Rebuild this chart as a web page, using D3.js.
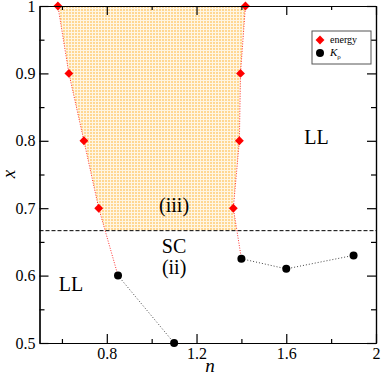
<!doctype html>
<html>
<head>
<meta charset="utf-8">
<script src="https://d3js.org/d3.v7.min.js"></script>
<style>
  body { margin: 0; background: #fff; }
  svg text { font-family: "Liberation Serif", "DejaVu Serif", serif; }
</style>
</head>
<body>
<script>
// data
var leftN = [0.582, 0.631, 0.698, 0.764];
var leftX = [1, 0.9, 0.8, 0.7];
var rightN = [1.418, 1.396, 1.391, 1.364];
var rightX = [1, 0.9, 0.8, 0.7];
var kappaN = [0.85, 1.1, 1.4, 1.6, 1.9];
var kappaX = [0.6, 0.5, 0.625, 0.61, 0.63];
var scLevel = 2 / 3;
var nMajor = [0.8, 1.2, 1.6, 2];
var nMinor = [0.6, 1.0, 1.4, 1.8];
var xMajor = [0.5, 0.6, 0.7, 0.8, 0.9, 1];
var xMinor = [0.55, 0.65, 0.75, 0.85, 0.95];

var W = 382, H = 375;
var svg = d3.select("body").append("svg")
    .attr("width", W).attr("height", H);

var x = d3.scaleLinear().domain([0.5, 2]).range([39.5, 376]);
var y = d3.scaleLinear().domain([0.5, 1]).range([343, 6]);

// checker fill pattern
var defs = svg.append("defs");
var pat = defs.append("pattern").attr("id", "dots")
    .attr("width", 3).attr("height", 3).attr("patternUnits", "userSpaceOnUse");
pat.append("rect").attr("width", 3).attr("height", 3).attr("fill", "#fff6e4");
pat.append("rect").attr("width", 2).attr("height", 2).attr("fill", "#ffd792");

// points of the red boundaries
var left = leftN.map(function(d, i) { return [d, leftX[i]]; });
var right = rightN.map(function(d, i) { return [d, rightX[i]]; });
left.push([kappaN[0], kappaX[0]]);
right.push([kappaN[2], kappaX[2]]);

function cut(a, b) {
    var t = (a[1] - scLevel) / (a[1] - b[1]);
    return [a[0] + t * (b[0] - a[0]), scLevel];
}
var poly = left.slice(0, 4)
    .concat([cut(left[3], left[4]), cut(right[3], right[4])])
    .concat(right.slice(0, 4).reverse());

svg.append("path")
    .attr("d", "M" + poly.map(function(p) { return x(p[0]) + "," + y(p[1]); }).join("L") + "Z")
    .attr("fill", "url(#dots)");

// dashed line x = 2/3
svg.append("line")
    .attr("x1", x(0.5)).attr("x2", x(2))
    .attr("y1", y(scLevel)).attr("y2", y(scLevel))
    .attr("stroke", "#000").attr("stroke-width", 1)
    .attr("stroke-dasharray", "4,2");

var line = d3.line().x(function(d) { return x(d[0]); }).y(function(d) { return y(d[1]); });

[left, right].forEach(function(pts) {
    svg.append("path").attr("d", line(pts))
        .attr("fill", "none").attr("stroke", "#ff3030")
        .attr("stroke-width", 1).attr("stroke-dasharray", "1,1.5");
});

var kappa = kappaN.map(function(d, i) { return [d, kappaX[i]]; });
[kappa.slice(0, 2), kappa.slice(2)].forEach(function(pts) {
    svg.append("path").attr("d", line(pts))
        .attr("fill", "none").attr("stroke", "#444")
        .attr("stroke-width", 1).attr("stroke-dasharray", "1,2");
});

// markers
var diamond = d3.symbol().type(d3.symbolDiamond2).size(50);
svg.selectAll(".en").data(left.slice(0, 4).concat(right.slice(0, 4)))
    .enter().append("path")
    .attr("transform", function(d) { return "translate(" + x(d[0]) + "," + y(d[1]) + ")"; })
    .attr("d", diamond).attr("fill", "#ff0000");

svg.selectAll(".kp").data(kappa)
    .enter().append("circle")
    .attr("cx", function(d) { return x(d[0]); })
    .attr("cy", function(d) { return y(d[1]); })
    .attr("r", 4).attr("fill", "#000");

// axes, ticks inward
function styleAxis(g) {
    g.attr("font-family", "Liberation Serif").attr("font-size", 16);
    g.select(".domain").attr("stroke", "#000").attr("stroke-width", 1.2);
    g.selectAll("line").attr("stroke", "#000").attr("stroke-width", 1.2);
    g.selectAll("text").attr("fill", "#000");
}
var fmtN = function(d) { return d === 2 ? "2" : d3.format(".1f")(d); };
var fmtX = function(d) { return d === 1 ? "1" : d3.format(".1f")(d); };

svg.append("g").attr("transform", "translate(0," + y(0.5) + ")")
    .call(d3.axisBottom(x).tickValues(nMajor).tickSizeInner(-9).tickSizeOuter(0).tickPadding(5).tickFormat(fmtN))
    .call(styleAxis);
svg.append("g").attr("transform", "translate(0," + y(0.5) + ")")
    .call(d3.axisBottom(x).tickValues(nMinor).tickSizeInner(-4).tickSizeOuter(0).tickFormat(""))
    .call(styleAxis);
svg.append("g").attr("transform", "translate(0," + y(1) + ")")
    .call(d3.axisTop(x).tickValues(nMajor).tickSizeInner(-9).tickSizeOuter(0).tickFormat(""))
    .call(styleAxis);
svg.append("g").attr("transform", "translate(0," + y(1) + ")")
    .call(d3.axisTop(x).tickValues(nMinor).tickSizeInner(-4).tickSizeOuter(0).tickFormat(""))
    .call(styleAxis);

svg.append("g").attr("transform", "translate(" + x(0.5) + ",0)")
    .call(d3.axisLeft(y).tickValues(xMajor).tickSizeInner(-9).tickSizeOuter(0).tickPadding(4).tickFormat(fmtX))
    .call(styleAxis);
svg.append("g").attr("transform", "translate(" + x(0.5) + ",0)")
    .call(d3.axisLeft(y).tickValues(xMinor).tickSizeInner(-5).tickSizeOuter(0).tickFormat(""))
    .call(styleAxis);
svg.append("g").attr("transform", "translate(" + x(2) + ",0)")
    .call(d3.axisRight(y).tickValues(xMajor).tickSizeInner(-9).tickSizeOuter(0).tickFormat(""))
    .call(styleAxis);
svg.append("g").attr("transform", "translate(" + x(2) + ",0)")
    .call(d3.axisRight(y).tickValues(xMinor).tickSizeInner(-5).tickSizeOuter(0).tickFormat(""))
    .call(styleAxis);

// axis titles
svg.append("text").attr("x", 210).attr("y", 372)
    .attr("text-anchor", "middle").attr("font-size", 19).attr("font-style", "italic").text("n");
svg.append("text").attr("transform", "translate(15,174) rotate(-90)")
    .attr("text-anchor", "middle").attr("font-size", 19).attr("font-style", "italic").text("x");

// region labels
var labels = [
    { t: "LL", n: 1.735, v: 0.803 },
    { t: "LL", n: 0.64, v: 0.585 },
    { t: "SC", n: 1.1, v: 0.641 },
    { t: "(ii)", n: 1.1, v: 0.61 },
    { t: "(iii)", n: 1.1, v: 0.702 }
];
svg.selectAll(".lab").data(labels).enter().append("text")
    .attr("x", function(d) { return x(d.n); })
    .attr("y", function(d) { return y(d.v) + 5; })
    .attr("text-anchor", "middle").attr("font-size", 20)
    .text(function(d) { return d.t; });

// legend
var lg = svg.append("g").attr("transform", "translate(312,31)");
lg.append("rect").attr("width", 59).attr("height", 33)
    .attr("fill", "#fff").attr("stroke", "#555").attr("stroke-width", 1);
lg.append("path").attr("transform", "translate(8,9)").attr("d", diamond).attr("fill", "#ff0000");
lg.append("text").attr("x", 18).attr("y", 12).attr("font-size", 10).text("energy");
lg.append("circle").attr("cx", 8).attr("cy", 22).attr("r", 4).attr("fill", "#000");
var kt = lg.append("text").attr("x", 18).attr("y", 25).attr("font-size", 11);
kt.append("tspan").attr("font-style", "italic").text("K");
kt.append("tspan").attr("font-size", 7).attr("dy", 3).text("ρ");
</script>
</body>
</html>
